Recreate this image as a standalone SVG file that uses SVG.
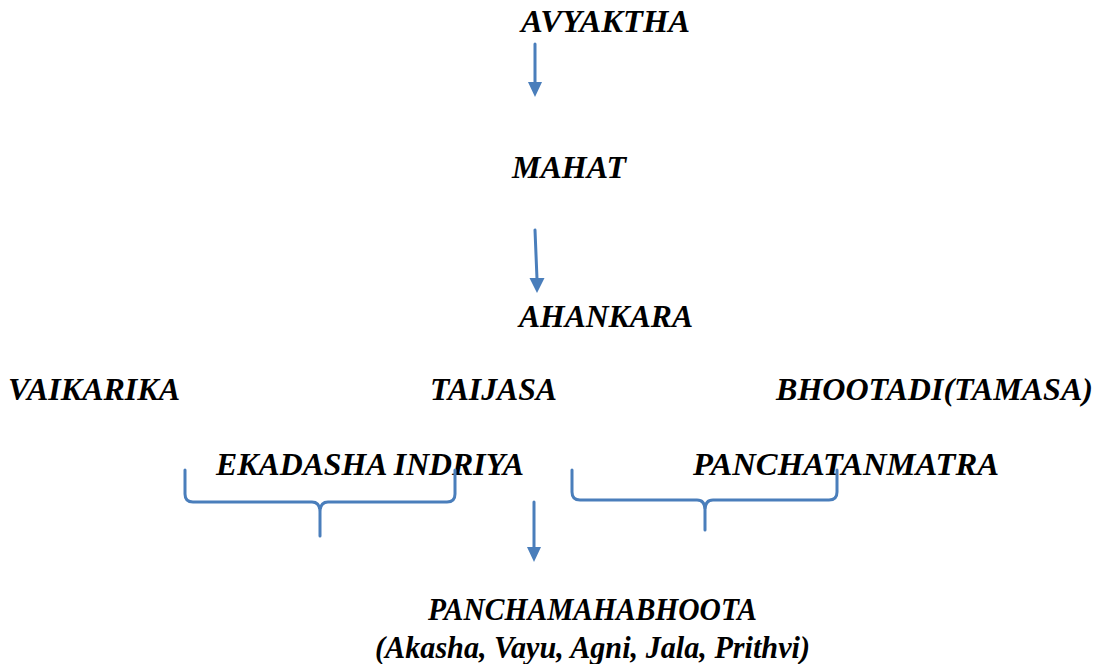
<svg xmlns="http://www.w3.org/2000/svg" width="1098" height="664" viewBox="0 0 1098 664">
<style>
text{font-family:'Times New Roman','Liberation Serif','DejaVu Serif',serif;font-weight:bold;font-style:italic;font-size:31.5px;fill:#000}
.c{stroke:#4A7EBB;stroke-width:3;fill:none;stroke-linecap:round}
.h{fill:#4A7EBB}
</style>
<rect width="1098" height="664" fill="#fff"/>
<g id="avyaktha"><text x="521" y="32" textLength="169" lengthAdjust="spacingAndGlyphs">AVYAKTHA</text></g>
<g id="mahat"><text x="512" y="178" textLength="114" lengthAdjust="spacingAndGlyphs">MAHAT</text></g>
<g id="ahankara"><text x="519" y="327" textLength="174" lengthAdjust="spacingAndGlyphs">AHANKARA</text></g>
<g id="vaikarika"><text x="8" y="400" textLength="172" lengthAdjust="spacingAndGlyphs">VAIKARIKA</text></g>
<g id="taijasa"><text x="430" y="400" textLength="127" lengthAdjust="spacingAndGlyphs">TAIJASA</text></g>
<g id="bhootadi"><text x="776" y="400" textLength="317" lengthAdjust="spacingAndGlyphs">BHOOTADI(TAMASA)</text></g>
<g id="ekadasha"><text x="216" y="475" textLength="308" lengthAdjust="spacingAndGlyphs">EKADASHA INDRIYA</text></g>
<g id="panchatanmatra"><text x="693" y="475" textLength="306" lengthAdjust="spacingAndGlyphs">PANCHATANMATRA</text></g>
<g id="panchamahabhoota"><text x="428" y="620" textLength="329" lengthAdjust="spacingAndGlyphs">PANCHAMAHABHOOTA</text><text x="375" y="658" textLength="435" lengthAdjust="spacingAndGlyphs">(Akasha, Vayu, Agni, Jala, Prithvi)</text></g>
<g id="connectors">
<line class="c" x1="535" y1="44" x2="535" y2="83"/>
<polygon class="h" points="528,82 542,82 535,97"/>
<line class="c" x1="535" y1="230" x2="537" y2="279"/>
<polygon class="h" points="529.5,278 544.5,278 537,293"/>
<line class="c" x1="534" y1="502" x2="534" y2="548"/>
<polygon class="h" points="527,547 541,547 534,562"/>
<path class="c" d="M185,470 L185,494 Q185,502 193,502 L312,502 Q320,502 320,512 L320,536 M320,512 Q320,502 328,502 L447,502 Q455,502 455,494 L455,470"/>
<path class="c" d="M572,470 L572,492 Q572,500 580,500 L697,500 Q705,500 705,510 L705,530 M705,510 Q705,500 713,500 L829,500 Q837,500 837,492 L837,470"/>
</g>
</svg>
